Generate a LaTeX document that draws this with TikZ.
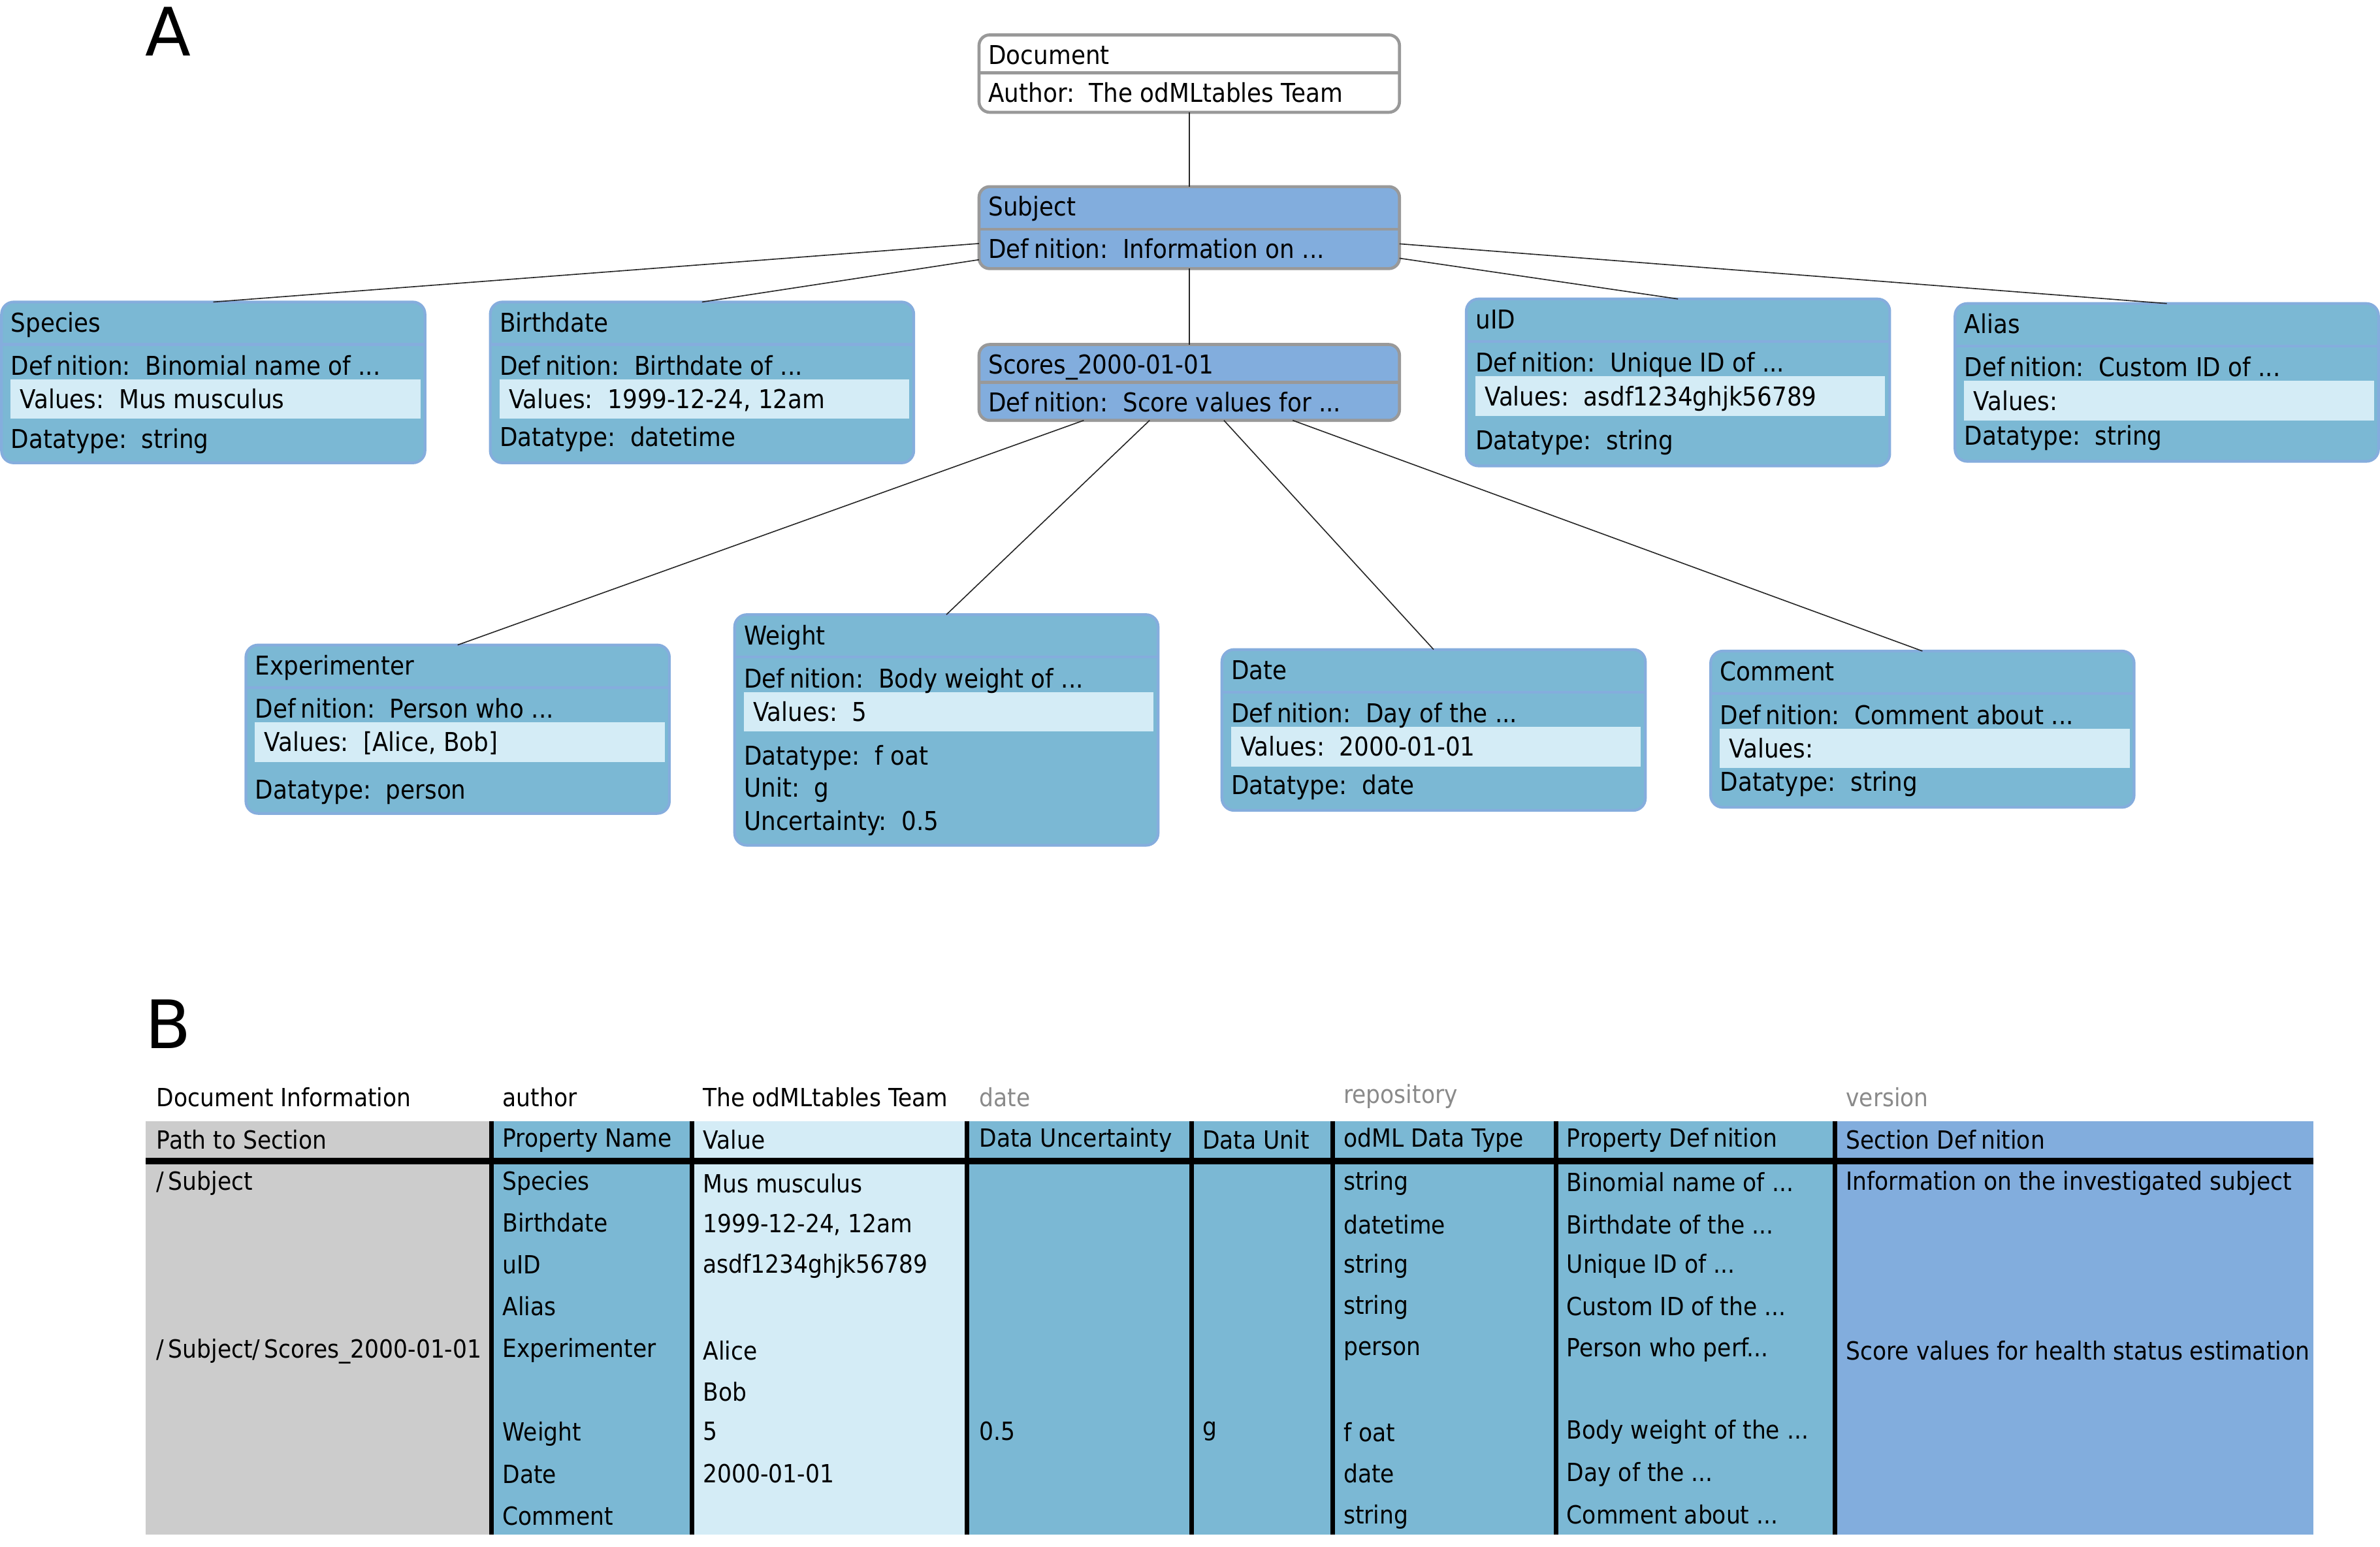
\documentclass[tikz,border=0pt]{standalone}
\usepackage{fontspec}
\setmainfont{DejaVu Sans}
\newfontfamily\odfont[FakeStretch=0.9]{DejaVu Sans}
\newcommand{\boxfont}{\odfont\fontsize{17.1}{20}\selectfont}
\newcommand{\tabfont}{\odfont\fontsize{16.5}{20}\selectfont}
\newcommand{\defword}{Def\hspace{0.2em}nition}

\definecolor{secfill}{HTML}{82ADDD}
\definecolor{secline}{HTML}{999999}
\definecolor{propfill}{HTML}{7BB8D4}
\definecolor{propline}{HTML}{85ADDD}
\definecolor{valfill}{HTML}{D4ECF6}
\definecolor{pathgray}{HTML}{CCCCCC}
\definecolor{metagray}{HTML}{8A8A8A}

\tikzset{
  secbox/.style={draw=secline, line width=2pt, rounded corners=7pt, inner sep=0pt,
    outer sep=0pt, minimum width=277pt, anchor=north west},
  propbox/.style={draw=propline, fill=propfill, line width=1.8pt, rounded corners=8pt,
    inner sep=0pt, outer sep=0pt, minimum width=279pt, anchor=north west},
  boxtxt/.style={anchor=west, inner sep=0pt, text height=12.5pt, text depth=0pt, font=\boxfont},
  cell/.style={anchor=west, inner sep=0pt, text height=12pt, text depth=0pt, font=\tabfont},
  metacell/.style={cell, text=metagray},
  link/.style={draw=black!85, line width=0.7pt},
  panel/.style={anchor=base, inner sep=0pt, font=\fontsize{44}{48}\selectfont},
  colrule/.style={line width=3pt},
}

% section box: name, x, top, height, divider offset, title, second line, fill
\newcommand{\SecBox}[8]{%
  \node[secbox, fill=#8, minimum height=#4pt] (#1) at (#2,#3) {};
  \draw[secline, line width=2pt] ([shift={(0,#5)}]#1.north west) -- ([shift={(0,#5)}]#1.north east);
  \node[boxtxt] (#1-a) at ([shift={(6,13)}]#1.north west) {#6};
  \node[boxtxt] (#1-b) at ([shift={(6,{#5+13})}]#1.north west) {#7};
}

% property box: name, x, top, height, title, definition, values, datatype, datatype offset
\newcommand{\PropBox}[9]{%
  \node[propbox, minimum height=#4pt] (#1) at (#2,#3) {};
  \draw[propline, line width=1.8pt] ([shift={(0,28)}]#1.north west) -- ([shift={(0,28)}]#1.north east);
  \fill[valfill] ([shift={(6,51)}]#1.north west) rectangle ([shift={(-3,77)}]#1.north east);
  \node[boxtxt] (#1-t) at ([shift={(6,13.5)}]#1.north west) {#5};
  \node[boxtxt] (#1-d) at ([shift={(6,42)}]#1.north west) {\defword:\ \ #6};
  \node[boxtxt] (#1-v) at ([shift={(12,64)}]#1.north west) {Values:\ \ #7};
  \node[boxtxt] (#1-dt) at ([shift={(6,#9)}]#1.north west) {Datatype:\ \ #8};
}

\begin{document}
\begin{tikzpicture}[x=1pt, y=-1pt]
\useasboundingbox (0,0) rectangle (1568,1019);

% panel letters
\node[panel] (panelA) at (111,37) {A};
\node[panel] (panelB) at (111,691) {B};

% ---- tree of sections and properties ----
\SecBox{doc}{645}{23}{51}{25}{Document}{Author:\ \ The odMLtables Team}{white}
\SecBox{subject}{645}{123}{54}{28}{Subject}{\defword:\ \ Information on ...}{secfill}
\SecBox{scores}{645}{227}{50}{25}{Scores\_2000-01-01}{\defword:\ \ Score values for ...}{secfill}

\PropBox{species}{1}{199}{106}{Species}{Binomial name of ...}{Mus musculus}{string}{90}
\PropBox{birthdate}{323}{199}{106}{Birthdate}{Birthdate of ...}{1999-12-24, 12am}{datetime}{89}
\PropBox{uid}{966}{197}{110}{uID}{Unique ID of ...}{asdf1234ghjk56789}{string}{93}
\PropBox{alias}{1288}{200}{104}{Alias}{Custom ID of ...}{}{string}{87}
\PropBox{experimenter}{162}{425}{111}{Experimenter}{Person who ...}{[Alice, Bob]}{person}{95}
\PropBox{weight}{484}{405}{152}{Weight}{Body weight of ...}{5}{f oat}{93}
\node[boxtxt] (weight-u) at ([shift={(6,114)}]weight.north west) {Unit:\ \ g};
\node[boxtxt] (weight-unc) at ([shift={(6,136)}]weight.north west) {Uncertainty:\ \ 0.5};
\PropBox{date}{805}{428}{106}{Date}{Day of the ...}{2000-01-01}{date}{89}
\PropBox{comment}{1127}{429}{103}{Comment}{Comment about ...}{}{string}{86}

\draw[link] (doc) -- (subject);
\draw[link] (subject) -- (scores);
\draw[link] (subject) -- (species.north);
\draw[link] (subject) -- (birthdate.north);
\draw[link] (subject) -- (uid.north);
\draw[link] (subject) -- (alias.north);
\draw[link] (scores) -- (experimenter.north);
\draw[link] (scores) -- (weight.north);
\draw[link] (scores) -- (date.north);
\draw[link] (scores) -- (comment.north);

% ---- table ----
\fill[pathgray] (96,739) rectangle (324,1011);
\fill[propfill] (324,739) rectangle (456,1011);
\fill[valfill]  (456,739) rectangle (637,1011);
\fill[propfill] (637,739) rectangle (1209,1011);
\fill[secfill]  (1209,739) rectangle (1524,1011);
\draw[line width=4pt] (96,765) -- (1524,765);
\foreach \xx in {324,456,637,785,878,1025,1209}
  \draw[colrule] (\xx,739) -- (\xx,1011);

% document information row
\node[cell] (m1) at (103,723) {Document Information};
\node[cell] (m2) at (331,723) {author};
\node[cell] (m3) at (463,723) {The odMLtables Team};
\node[metacell] (m4) at (645,723) {date};
\node[metacell] (m5) at (885,721) {repository};
\node[metacell] (m6) at (1216,723) {version};

% header row
\node[cell] (h1) at (103,751) {Path to Section};
\node[cell] (h2) at (331,750) {Property Name};
\node[cell] (h3) at (463,751) {Value};
\node[cell] (h4) at (645,750) {Data Uncertainty};
\node[cell] (h5) at (792,751) {Data Unit};
\node[cell] (h6) at (885,750) {odML Data Type};
\node[cell] (h7) at (1032,750) {Property \defword};
\node[cell] (h8) at (1216,751) {Section \defword};

% body rows
\node[cell] (p1) at (103,778) {/\,Subject};
\node[cell] (p2) at (103,889) {/\,Subject/\,Scores\_2000-01-01};

\foreach \nm [count=\i] in {Species,Birthdate,uID,Alias,Experimenter,,Weight,Date,Comment}
  \node[cell] (n\i) at (331,{778+27.6*(\i-1)}) {\nm};

\node[cell] (v1) at (463,780) {Mus musculus};
\node[cell] (v2) at (463,806) {1999-12-24, 12am};
\node[cell] (v3) at (463,833) {asdf1234ghjk56789};
\node[cell] (v5) at (463,890) {Alice};
\node[cell] (v6) at (463,917) {Bob};
\node[cell] (v7) at (463,943) {5};
\node[cell] (v8) at (463,971) {2000-01-01};

\node[cell] (u7) at (645,943) {0.5};
\node[cell] (g7) at (792,940) {g};

\foreach \dt/\yy [count=\i] in {string/778,datetime/807,string/833,string/860,person/887,f oat/944,date/971,string/998}
  \node[cell] (t\i) at (885,\yy) {\dt};

\node[cell] (d1) at (1032,779) {Binomial name of ...};
\node[cell] (d2) at (1032,807) {Birthdate of the ...};
\node[cell] (d3) at (1032,833) {Unique ID of ...};
\node[cell] (d4) at (1032,861) {Custom ID of the ...};
\node[cell] (d5) at (1032,888) {Person who perf...};
\node[cell] (d7) at (1032,942) {Body weight of the ...};
\node[cell] (d8) at (1032,970) {Day of the ...};
\node[cell] (d9) at (1032,998) {Comment about ...};

\node[cell] (s1) at (1216,778) {Information on the investigated subject};
\node[cell] (s2) at (1216,890) {Score values for health status estimation};
\end{tikzpicture}
\end{document}
